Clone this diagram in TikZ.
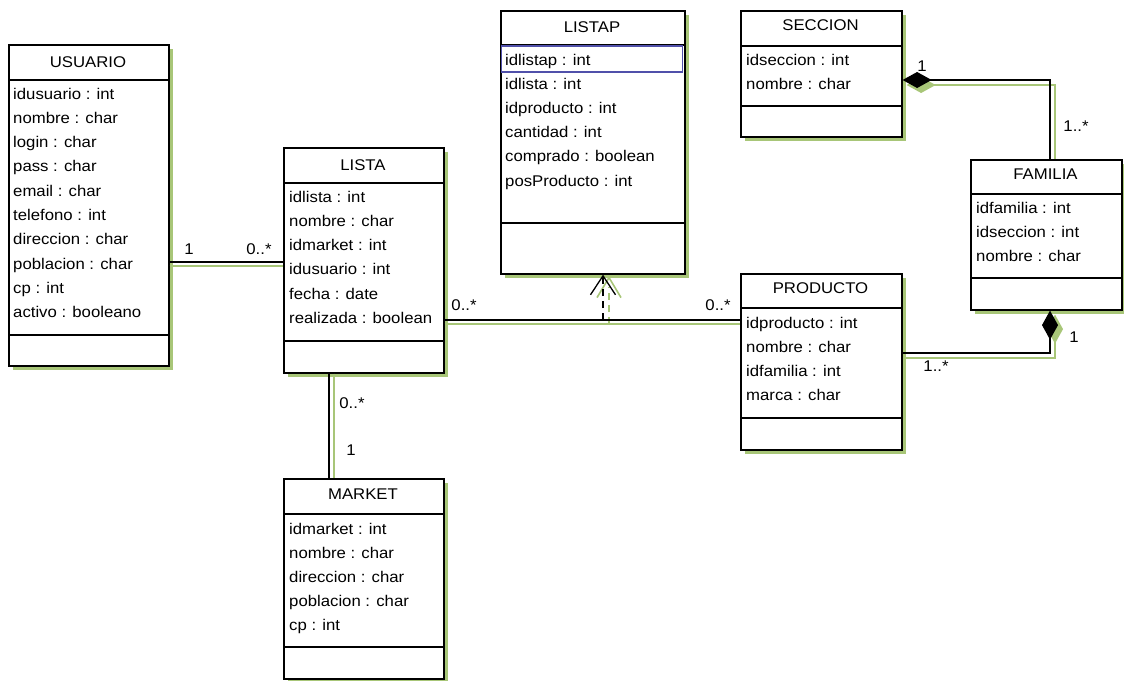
\documentclass[tikz,border=0pt]{standalone}
\usepackage{fontspec}
\setmainfont[FakeStretch=1.08]{Liberation Sans}
\usetikzlibrary{arrows.meta,shadows,calc}
\definecolor{shcol}{RGB}{168,198,120}
\definecolor{hlblue}{RGB}{80,80,170}
\begin{document}
\begin{tikzpicture}[x=1pt,y=-1pt,
  font=\fontsize{15.5}{18}\selectfont,
  classbox/.style={draw=black, line width=1.6pt, fill=white, anchor=north west, inner sep=0pt,
    drop shadow={shadow xshift=4pt, shadow yshift=-4pt, fill=shcol, opacity=1}},
  sepline/.style={draw=black, line width=1.5pt},
  ctitle/.style={anchor=center, inner sep=0pt},
  attr/.style={anchor=west, inner sep=0pt, text height=11pt, text depth=3pt},
  mult/.style={anchor=center, inner sep=0pt, text height=11pt, text depth=1pt},
  conn/.style={draw=black, line width=1.2pt},
  connsh/.style={draw=shcol, line width=1.8pt},
  comp/.style={{Diamond[length=29pt,width=16pt]}-},
]
\useasboundingbox (0,0) rectangle (1124,680);

% ---------- USUARIO
\node[classbox, minimum width=160pt, minimum height=321pt] (usuario) at (8,44) {};
\draw[sepline] (8,80) -- (168,80);
\draw[sepline] (8,335) -- (168,335);
\node[ctitle] (usuario-t) at (88,62) {USUARIO};
\foreach \t [count=\i from 0] in {idusuario : int, nombre : char, login : char, pass : char, email : char, telefono : int, direccion : char, poblacion : char, cp : int, activo : booleano}
  \node[attr] (usuario-a\i) at (13,95+24.3*\i) {\t};

% ---------- LISTA
\node[classbox, minimum width=160pt, minimum height=225pt] (lista) at (283,147) {};
\draw[sepline] (283,183) -- (443,183);
\draw[sepline] (283,341) -- (443,341);
\node[ctitle] (lista-t) at (363,165) {LISTA};
\foreach \t [count=\i from 0] in {idlista : int, nombre : char, idmarket : int, idusuario : int, fecha : date, realizada : boolean}
  \node[attr] (lista-a\i) at (289,198+24.3*\i) {\t};

% ---------- LISTAP
\node[classbox, minimum width=184pt, minimum height=263pt] (listap) at (500,10) {};
\draw[sepline] (500,45) -- (684,45);
\draw[sepline] (500,223) -- (684,223);
\draw[draw=hlblue, line width=1.6pt] (501.5,46) rectangle (682.5,72);
\node[ctitle] (listap-t) at (592,27) {LISTAP};
\foreach \t [count=\i from 0] in {idlistap : int, idlista : int, idproducto : int, cantidad : int, comprado : boolean, posProducto : int}
  \node[attr] (listap-a\i) at (505,61+24.2*\i) {\t};

% ---------- SECCION
\node[classbox, minimum width=161pt, minimum height=126pt] (seccion) at (740,10) {};
\draw[sepline] (740,46) -- (901,46);
\draw[sepline] (740,106) -- (901,106);
\node[ctitle] (seccion-t) at (820.5,25) {SECCION};
\foreach \t [count=\i from 0] in {idseccion : int, nombre : char}
  \node[attr] (seccion-a\i) at (746,61+24.2*\i) {\t};

% ---------- FAMILIA
\node[classbox, minimum width=151pt, minimum height=150pt] (familia) at (970,159) {};
\draw[sepline] (970,194) -- (1121,194);
\draw[sepline] (970,278) -- (1121,278);
\node[ctitle] (familia-t) at (1045.5,174) {FAMILIA};
\foreach \t [count=\i from 0] in {idfamilia : int, idseccion : int, nombre : char}
  \node[attr] (familia-a\i) at (976,209+24.2*\i) {\t};

% ---------- PRODUCTO
\node[classbox, minimum width=161pt, minimum height=176pt] (producto) at (740,273) {};
\draw[sepline] (740,308) -- (901,308);
\draw[sepline] (740,418) -- (901,418);
\node[ctitle] (producto-t) at (820.5,288) {PRODUCTO};
\foreach \t [count=\i from 0] in {idproducto : int, nombre : char, idfamilia : int, marca : char}
  \node[attr] (producto-a\i) at (746,324+24.2*\i) {\t};

% ---------- MARKET
\node[classbox, minimum width=160pt, minimum height=200pt] (market) at (283,478) {};
\draw[sepline] (283,514) -- (443,514);
\draw[sepline] (283,647) -- (443,647);
\node[ctitle] (market-t) at (363,494) {MARKET};
\foreach \t [count=\i from 0] in {idmarket : int, nombre : char, direccion : char, poblacion : char, cp : int}
  \node[attr] (market-a\i) at (289,530+24.2*\i) {\t};

% ---------- connector end points
\coordinate (c1a) at (usuario.east |- 0,262);
\coordinate (c1b) at (lista.west |- 0,262);
\coordinate (c2a) at (lista.east |- 0,320);
\coordinate (c2b) at (producto.west |- 0,320);
\coordinate (c3a) at (603,320);
\coordinate (c3b) at (listap.south -| 603,0);
\coordinate (c4a) at (lista.south -| 329,0);
\coordinate (c4b) at (market.north -| 329,0);
\coordinate (c5a) at (seccion.east |- 0,80);
\coordinate (c5k) at (1050,80);
\coordinate (c5b) at (familia.north -| 1050,0);
\coordinate (c6a) at (familia.south -| 1050,0);
\coordinate (c6k) at (1050,353);
\coordinate (c6b) at (producto.east |- 0,353);

% ---------- connector shadows
\draw[connsh] ($(c1a)+(0,4)$) -- ($(c1b)+(0,4)$);
\draw[connsh] ($(c2a)+(0,4)$) -- ($(c2b)+(0,4)$);
\draw[connsh, dash pattern=on 7pt off 5pt] ($(c3a)+(6,4)$) -- ($(c3b)+(6,12)$);
\draw[connsh, line width=1.6pt] ($(c3b)+(6,3)$) ++(-12,20) -- ++(12,-20) -- ++(12,20);
\draw[connsh] ($(c4a)+(5,0)$) -- ($(c4b)+(5,0)$);
\draw[connsh, comp, shcol] ($(c5a)+(4,5)$) -- ($(c5k)+(5,5)$) -- ($(c5b)+(5,0)$);
\draw[connsh, comp, shcol] ($(c6a)+(5,4)$) -- ($(c6k)+(5,5)$) -- ($(c6b)+(0,5)$);

% ---------- connectors
\draw[conn] (c1a) -- (c1b);
\draw[conn] (c2a) -- (c2b);
\draw[conn, dash pattern=on 7pt off 5pt, -{Straight Barb[length=19pt,width=25pt,line width=1.3pt]}] (c3a) -- (c3b);
\draw[conn, comp] (c5a) -- (c5k) -- (c5b);
\draw[conn, comp] (c6a) -- (c6k) -- (c6b);
\draw[conn] (c4a) -- (c4b);

% ---------- multiplicities
\node[mult] (m1a) at (189,249) {1};
\node[mult] (m1b) at (259,249) {0..*};
\node[mult] (m2a) at (464,305) {0..*};
\node[mult] (m2b) at (718,305) {0..*};
\node[mult] (m4a) at (352,403) {0..*};
\node[mult] (m4b) at (351,450) {1};
\node[mult] (m5a) at (922,66) {1};
\node[mult] (m5b) at (1076,126) {1..*};
\node[mult] (m6a) at (1074,337) {1};
\node[mult] (m6b) at (936,366) {1..*};
\end{tikzpicture}
\end{document}
